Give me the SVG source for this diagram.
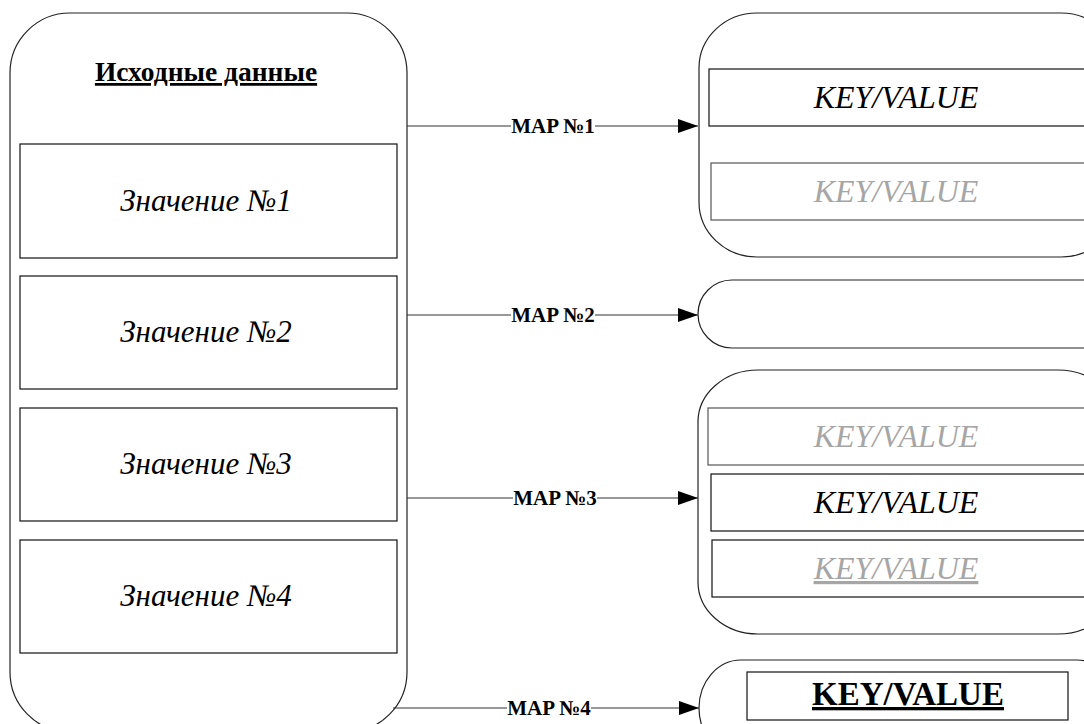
<svg xmlns="http://www.w3.org/2000/svg" width="1084" height="724" viewBox="0 0 1084 724">
<defs>
<style>
.shape{fill:#fff;stroke:#222;stroke-width:1.2}
.box{fill:#fff;stroke:#111;stroke-width:1.2}
.gbox{fill:#fff;stroke:#555;stroke-width:1.2}
.val{font-family:"Liberation Serif",serif;font-style:italic;font-size:31px;fill:#000;text-anchor:middle}
.kv{font-family:"Liberation Serif",serif;font-style:italic;font-size:32px;fill:#000;text-anchor:middle}
.kvg{font-family:"Liberation Serif",serif;font-style:italic;font-size:32px;fill:#a6a6a6;text-anchor:middle}
.title{font-family:"Liberation Serif",serif;font-weight:bold;font-size:27.5px;fill:#000;text-anchor:middle;text-decoration:underline}
.lbl{font-family:"Liberation Serif",serif;font-weight:bold;font-size:21px;fill:#000;text-anchor:middle}
.conn{stroke:#333;stroke-width:1.2;fill:none}
</style>
<marker id="arr" viewBox="0 0 20 14" refX="20" refY="7" markerWidth="20" markerHeight="14" markerUnits="userSpaceOnUse" orient="auto">
<path d="M0,0 L20,7 L0,14 Z" fill="#000"/>
</marker>
</defs>
<rect width="1084" height="724" fill="#fff"/>

<g id="source">
<rect class="shape" x="10" y="13" width="397" height="719" rx="60" ry="60"/>
<text class="title" x="206" y="81">Исходные данные</text>
<g id="v1"><rect class="box" x="20" y="144" width="377" height="114"/><text class="val" x="206" y="211">Значение №1</text></g>
<g id="v2"><rect class="box" x="20" y="276" width="377" height="113"/><text class="val" x="206" y="342">Значение №2</text></g>
<g id="v3"><rect class="box" x="20" y="408" width="377" height="113"/><text class="val" x="206" y="474">Значение №3</text></g>
<g id="v4"><rect class="box" x="20" y="540" width="377" height="113"/><text class="val" x="206" y="606">Значение №4</text></g>
</g>

<g id="target1">
<rect class="shape" x="699" y="13" width="420" height="244" rx="58" ry="55"/>
<rect class="box" x="709" y="69" width="400" height="57"/>
<text class="kv" x="896" y="108">KEY/VALUE</text>
<rect class="gbox" x="711" y="163" width="400" height="57"/>
<text class="kvg" x="896" y="202">KEY/VALUE</text>
</g>

<g id="target2">
<rect class="shape" x="698" y="280" width="420" height="68" rx="34" ry="34"/>
</g>

<g id="target3">
<rect class="shape" x="698" y="370" width="420" height="264" rx="60" ry="52"/>
<rect class="gbox" x="708" y="408" width="400" height="57"/>
<text class="kvg" x="896" y="447">KEY/VALUE</text>
<rect class="box" x="711" y="474" width="400" height="57"/>
<text class="kv" x="896" y="513">KEY/VALUE</text>
<rect class="box" x="712" y="540" width="400" height="57"/>
<text class="kvg" x="896" y="579" text-decoration="underline">KEY/VALUE</text>
</g>

<g id="target4">
<rect class="shape" x="699" y="660" width="420" height="96" rx="42" ry="48"/>
<rect class="box" x="747" y="672" width="321" height="48"/>
<text class="title" x="908" y="705" style="font-size:33px">KEY/VALUE</text>
</g>

<g id="connectors">
<line class="conn" x1="407" y1="126" x2="698" y2="126" marker-end="url(#arr)"/>
<line class="conn" x1="407" y1="315" x2="698" y2="315" marker-end="url(#arr)"/>
<line class="conn" x1="407" y1="498" x2="698" y2="498" marker-end="url(#arr)"/>
<line class="conn" x1="393" y1="708" x2="699" y2="708" marker-end="url(#arr)"/>
<rect x="511" y="116" width="84" height="20" fill="#fff"/>
<text class="lbl" x="553" y="133">MAP №1</text>
<rect x="511" y="305" width="84" height="20" fill="#fff"/>
<text class="lbl" x="553" y="322">MAP №2</text>
<rect x="513" y="488" width="84" height="20" fill="#fff"/>
<text class="lbl" x="555" y="505">MAP №3</text>
<rect x="507" y="698" width="84" height="20" fill="#fff"/>
<text class="lbl" x="549" y="715">MAP №4</text>
</g>
</svg>
